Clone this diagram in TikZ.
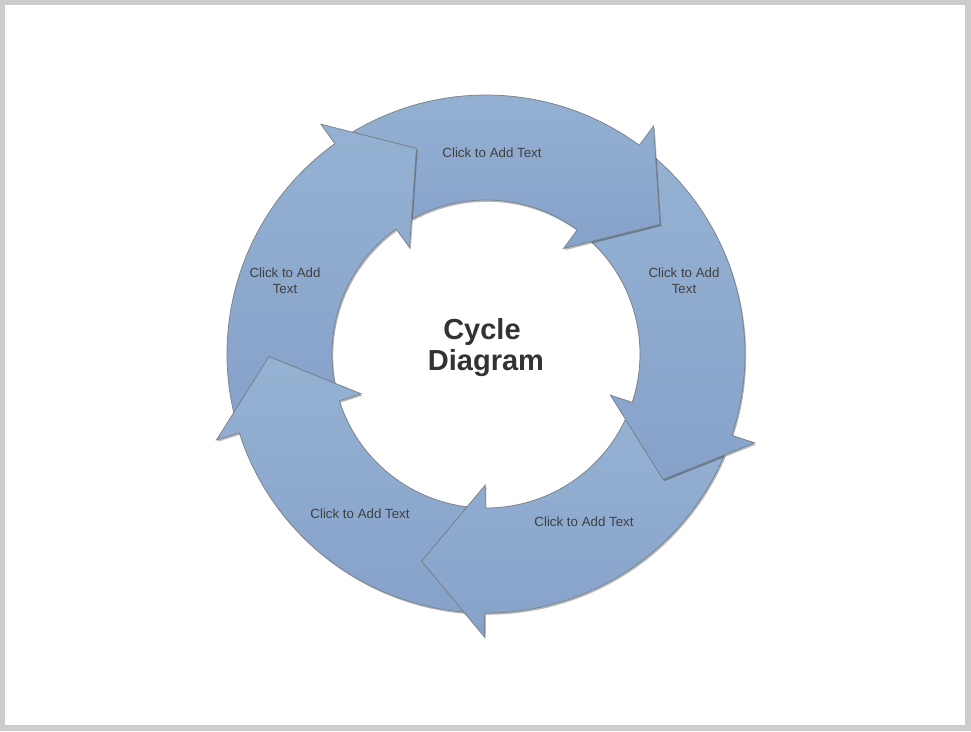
\documentclass[tikz,border=0pt]{standalone}
\usepackage{fontspec}
\setmainfont{Liberation Sans}
\usetikzlibrary{shadows}
\definecolor{ringtop}{HTML}{95B1D2}
\definecolor{ringbot}{HTML}{86A2CA}
\definecolor{edgegray}{HTML}{7A828C}
\definecolor{txt}{HTML}{404040}
\definecolor{titlec}{HTML}{333333}
\definecolor{framec}{HTML}{CCCCCC}
\tikzset{
  cycbase/.style={draw=edgegray, line width=0.75pt, line join=miter,
    top color=ringtop, bottom color=ringbot},
  cyc/.style={cycbase,
    drop shadow={shadow xshift=1.2pt, shadow yshift=-1.8pt, opacity=0.28, fill=black}},
  shadowonly/.style={draw=none, fill=black, opacity=0.28, shift={(1.2pt,-1.8pt)}},
  lbl/.style={font=\fontsize{13.3}{15.8}\selectfont, text=txt, inner sep=0pt, align=center},
  ttl/.style={font=\fontsize{29}{31}\selectfont\bfseries, text=titlec, inner sep=0pt, align=center}
}
% #2 = barb angle of the arrow head; the tail is notched to fit the previous head
\newcommand\cycarrow[2][cyc]{%
  \draw[#1] ({#2+67.38}:259) arc[start angle={#2+67.38}, end angle={#2}, radius=259]
    -- ({#2}:283) -- ({#2-17}:217) -- ({#2}:131) -- ({#2}:154)
    arc[start angle={#2}, end angle={#2+65.22}, radius=154]
    -- ({#2+55}:217) -- cycle;
}
\begin{document}
\begin{tikzpicture}[x=1pt,y=1pt]
  \useasboundingbox (-486,-377) rectangle (485,354);
  \fill[framec] (-486,-377) rectangle (485,354);
  \fill[white] (-481,-371) rectangle (479,349);
  % arrows
  \cycarrow[shadowonly]{-162.3}
  \cycarrow{-90.3}
  \cycarrow{-18.3}
  \cycarrow{-306.3}
  \cycarrow{-234.3}
  \cycarrow[cycbase]{-162.3}
  % labels
  \node[lbl, anchor=base] (ltop) at (6,196) {Click to Add Text};
  \node[lbl] (lright) at (198,73) {Click to Add\\Text};
  \node[lbl, anchor=base] (lbr) at (98,-172) {Click to Add Text};
  \node[lbl, anchor=base] (lbl) at (-126,-164) {Click to Add Text};
  \node[lbl] (lleft) at (-201,73) {Click to Add\\Text};
  \node[ttl] (title) at (0,6.5) {Cycle\kern8pt\\Diagram};
\end{tikzpicture}
\end{document}
